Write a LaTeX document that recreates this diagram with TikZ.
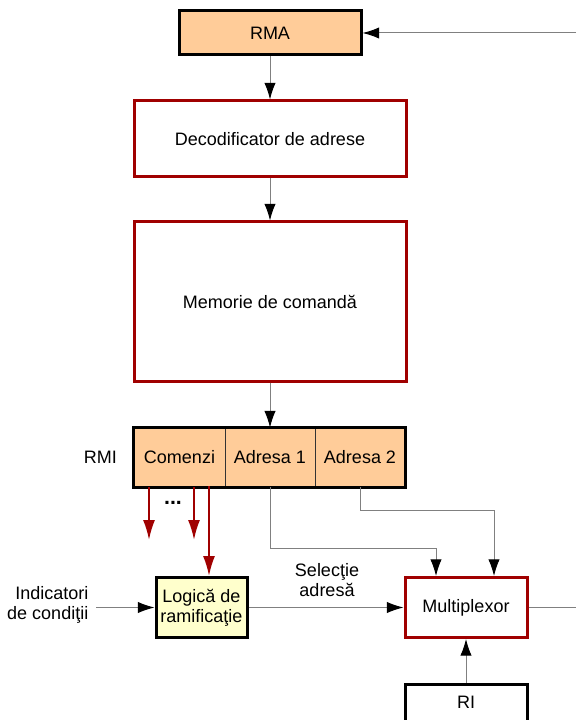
\documentclass[tikz,border=0pt]{standalone}
\usepackage{fontspec}
\setmainfont{Liberation Sans}
\usetikzlibrary{arrows.meta,positioning,calc}

\definecolor{regfill}{HTML}{FFCC99}
\definecolor{logfill}{HTML}{FFFFCC}
\definecolor{boxred}{HTML}{A00000}
\tikzset{
  blk/.style={draw=boxred,line width=2.25pt,fill=white,inner sep=0pt},
  reg/.style={draw=black,line width=2.25pt,fill=regfill,inner sep=0pt},
  cell/.style={draw=black!80,line width=0.6pt,fill=regfill,inner sep=0pt,minimum width=90*0.75pt,minimum height=59*0.75pt},
  arr/.style={draw=black!50,line width=0.75pt,-{Latex[length=12.5pt,width=8.5pt,black]}},
  wire/.style={draw=black!50,line width=0.75pt},
  redarr/.style={draw=boxred,line width=1.5pt,-{Latex[length=15pt,width=9pt,boxred]}}
}

\begin{document}
\begin{tikzpicture}[x=0.75pt,y=-0.75pt, every node/.style={font=\fontsize{13.5}{16}\selectfont}]
\useasboundingbox (0,0) rectangle (576,720);
\clip (0,0) rectangle (576,720);
\node[reg,minimum width=182*0.75pt,minimum height=44*0.75pt] (rma) at (270,33) {RMA};
\node[blk,minimum width=272*0.75pt,minimum height=76*0.75pt] (dec) at (270,139) {Decodificator de adrese};
\node[blk,minimum width=272*0.75pt,minimum height=159*0.75pt] (mem) at (270,301.5) {Memorie de comandă};
% registrul RMI
\node[cell,minimum width=91*0.75pt] (cmd) at (179.5,457.5) {Comenzi};
\node[cell] (adr1) at (270,457.5) {Adresa 1};
\node[cell] (adr2) at (360,457.5) {Adresa 2};
\draw[line width=2.25pt] (cmd.north west) rectangle (adr2.south east);
\node[left=9pt of cmd] (rmi) {RMI};
\node[reg,fill=logfill,minimum width=91*0.75pt,minimum height=60*0.75pt,align=center,font=\fontsize{13.5}{15}\selectfont] (logic) at (201.5,607.5) {Logică de\\ramificaţie};
\node[blk,minimum width=122*0.75pt,minimum height=60*0.75pt] (mux) at (466,607.5) {Multiplexor};
\node[draw,line width=2.25pt,fill=white,minimum width=122*0.75pt,minimum height=52*0.75pt,inner sep=0pt] (ri) at (466,710) {};
\node at (466,702) {RI};
\node[anchor=east,align=right,font=\fontsize{13.5}{15}\selectfont] (ind) at (93,605) {Indicatori\\de condiţii};
\node[align=center,font=\fontsize{13.5}{15}\selectfont] (sel) at (327,580) {Selecţie\\adresă};
\coordinate (inR) at (576,33);
\coordinate (outR) at (576,607.5);
\coordinate (r1) at (149,540);
\coordinate (r2) at (194,540);
\draw[arr] (inR) -- (rma);
\draw[arr] (rma) -- (dec);
\draw[arr] (dec) -- (mem);
\draw[arr] (mem) -- (adr1);
\draw[redarr] (r1 |- cmd.south) -- (r1);
\draw[redarr] (r2 |- cmd.south) -- (r2);
\node[font=\fontsize{16}{16}\bfseries] (dots) at (173,503) {...};
\draw[redarr] ($(logic.north)+(7.5,-90)$) -- ($(logic.north)+(7.5,0)$);
\draw[arr] (adr1.south) -- ++(0,61) -| ($(mux.north)+(-30,0)$);
\draw[arr] (adr2.south) -- ++(0,23) -| ($(mux.north)+(28,0)$);
\draw[arr] (ind.east) ++(3,2.5) -- (logic.west);
\draw[arr] (logic.east) -- (mux.west);
\draw[wire] (mux) -- (outR);
\draw[arr] (ri) -- (mux);
\end{tikzpicture}
\end{document}
